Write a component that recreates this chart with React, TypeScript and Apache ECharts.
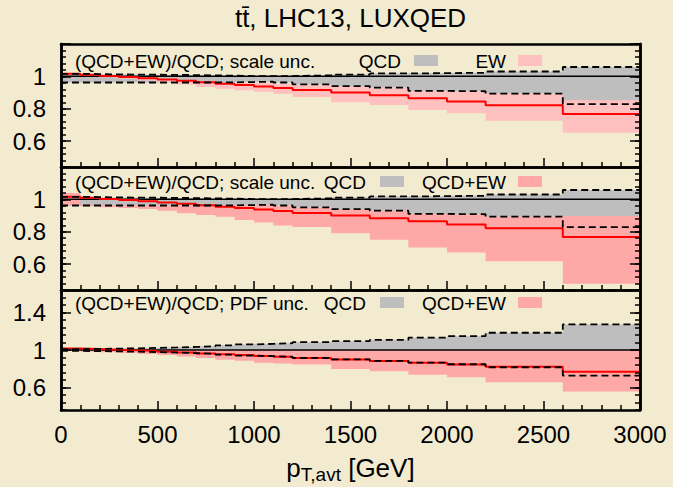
import { useEffect, useRef } from "react";
import * as echarts from "echarts";

// Bin edges in p_T,avt [GeV]
const binEdges = [0, 100, 200, 300, 400, 500, 600, 700, 800, 900, 1000, 1100, 1200, 1400, 1600, 1800, 2000, 2200, 2600, 3000];

// (QCD+EW)/QCD central value per bin
const ratioCentral = [1.016, 1.010, 1.003, 0.996, 0.989, 0.981, 0.973, 0.964, 0.955, 0.946, 0.937, 0.928, 0.916, 0.900, 0.883, 0.865, 0.845, 0.821, 0.768];

// QCD scale uncertainty band (upper / lower edge)
const qcdScaleUp = [1.016, 1.014, 1.012, 1.011, 1.010, 1.009, 1.008, 1.006, 1.004, 1.002, 1.001, 1.002, 1.006, 1.011, 1.018, 1.020, 1.022, 1.030, 1.058];
const qcdScaleDn = [0.962, 0.962, 0.962, 0.962, 0.962, 0.962, 0.962, 0.962, 0.963, 0.965, 0.967, 0.962, 0.950, 0.940, 0.930, 0.910, 0.908, 0.893, 0.828];

// EW uncertainty band
const ewUp = [1.020, 1.014, 1.007, 1.000, 0.993, 0.985, 0.977, 0.970, 0.965, 0.962, 0.960, 0.955, 0.946, 0.941, 0.932, 0.911, 0.909, 0.895, 0.852];
const ewDn = [1.012, 1.004, 0.995, 0.985, 0.975, 0.963, 0.950, 0.934, 0.924, 0.914, 0.905, 0.892, 0.873, 0.840, 0.823, 0.792, 0.772, 0.726, 0.652];

// QCD+EW scale uncertainty band
const qcdEwScaleUp = [1.040, 0.966, 0.964, 0.963, 0.962, 0.962, 0.962, 0.962, 0.963, 0.965, 0.967, 0.962, 0.950, 0.940, 0.930, 0.910, 0.908, 0.893, 0.898];
const qcdEwScaleDn = [0.962, 0.957, 0.952, 0.947, 0.940, 0.930, 0.915, 0.903, 0.892, 0.872, 0.857, 0.838, 0.830, 0.790, 0.750, 0.703, 0.672, 0.617, 0.478];

// QCD PDF uncertainty band
const qcdPdfUp = [1.010, 1.012, 1.015, 1.018, 1.022, 1.027, 1.033, 1.040, 1.050, 1.059, 1.066, 1.073, 1.084, 1.094, 1.109, 1.131, 1.148, 1.184, 1.273];
const qcdPdfDn = [0.990, 0.988, 0.985, 0.982, 0.978, 0.973, 0.967, 0.960, 0.950, 0.941, 0.934, 0.927, 0.916, 0.900, 0.885, 0.865, 0.848, 0.816, 0.727];

// QCD+EW PDF uncertainty band
const qcdEwPdfUp = [0.999, 0.999, 0.999, 0.999, 0.999, 0.999, 0.999, 0.999, 0.999, 0.999, 0.999, 0.999, 0.999, 0.999, 0.999, 0.999, 0.999, 0.999, 0.999];
const qcdEwPdfDn = [0.992, 0.985, 0.977, 0.968, 0.958, 0.946, 0.930, 0.916, 0.895, 0.885, 0.865, 0.855, 0.845, 0.798, 0.773, 0.737, 0.709, 0.655, 0.558];

// Axis ticks and labels
const yMinorUpper = [0.44, 0.48, 0.52, 0.56, 0.6, 0.64, 0.68, 0.72, 0.76, 0.8, 0.84, 0.88, 0.92, 0.96, 1, 1.04, 1.08, 1.12, 1.16, 1.2];
const yMajorUpper = [0.6, 0.8, 1, 1.2];
const yLabelsUpper = [0.6, 0.8, 1];
const yMinorPdf = [0.36, 0.44, 0.52, 0.6, 0.68, 0.76, 0.84, 0.92, 1, 1.08, 1.16, 1.24, 1.32, 1.4, 1.48, 1.56, 1.64];
const yMajorPdf = [0.6, 1, 1.4];
const yLabelsPdf = [0.6, 1, 1.4];

const FONT = "'Liberation Sans', Arial, Helvetica, sans-serif";
const BG = "#f2ebd0";
const GREY = "#bebebe";

const PLOT_LEFT = 61;
const PLOT_RIGHT = 640;
const WIDTH = 673;
const HEIGHT = 487;

const panels = [
  {
    top: 44, height: 123, min: 0.44, max: 1.2,
    minors: yMinorUpper, majors: yMajorUpper, labels: yLabelsUpper,
    grey: [qcdScaleDn, qcdScaleUp], pink: [ewDn, ewUp], pinkColor: "#ffc0c0",
    dashed: [qcdScaleUp, qcdScaleDn],
    text: "(QCD+EW)/QCD; scale unc.", key1: "QCD", key1Right: 401, sw1: 414,
    key2: "EW", textY: 61,
  },
  {
    top: 167, height: 123, min: 0.44, max: 1.2,
    minors: yMinorUpper, majors: yMajorUpper, labels: yLabelsUpper,
    grey: [qcdScaleDn, qcdScaleUp], pink: [qcdEwScaleDn, qcdEwScaleUp], pinkColor: "#ffa8a8",
    dashed: [qcdScaleUp, qcdScaleDn],
    text: "(QCD+EW)/QCD; scale unc.", key1: "QCD", key1Right: 366, sw1: 380,
    key2: "QCD+EW", textY: 182,
  },
  {
    top: 290, height: 120, min: 0.36, max: 1.64,
    minors: yMinorPdf, majors: yMajorPdf, labels: yLabelsPdf,
    grey: [qcdPdfDn, qcdPdfUp], pink: [qcdEwPdfDn, qcdEwPdfUp], pinkColor: "#ffa8a8",
    dashed: [qcdPdfUp, qcdPdfDn],
    text: "(QCD+EW)/QCD; PDF unc.", key1: "QCD", key1Right: 366, sw1: 380,
    key2: "QCD+EW", textY: 303,
  },
];

function steps(vals: number[]) {
  const pts: number[][] = [];
  vals.forEach((v, i) => {
    pts.push([binEdges[i], v], [binEdges[i + 1], v]);
  });
  return pts;
}

function band(g: number, lo: number[], hi: number[], color: string, z: number) {
  return {
    type: "custom",
    xAxisIndex: g * 2,
    yAxisIndex: g * 4,
    z,
    silent: true,
    clip: true,
    data: [[0, 1]],
    renderItem: (_params: any, api: any) => {
      const topPts: number[][] = [];
      const botPts: number[][] = [];
      hi.forEach((v, i) => {
        topPts.push(api.coord([binEdges[i], v]), api.coord([binEdges[i + 1], v]));
      });
      lo.forEach((v, i) => {
        botPts.push(api.coord([binEdges[i], v]), api.coord([binEdges[i + 1], v]));
      });
      return {
        type: "polygon",
        shape: { points: topPts.concat(botPts.reverse()) },
        style: { fill: color, stroke: null },
      };
    },
  };
}

function line(g: number, data: number[][], color: string, width: number, type: any, z: number) {
  return {
    type: "line",
    xAxisIndex: g * 2,
    yAxisIndex: g * 4,
    data,
    symbol: "none",
    silent: true,
    z,
    lineStyle: { color, width, type },
  };
}

const labelFmt = (v: number) => String(Math.round(v * 100) / 100);

export default function App() {
  const ref = useRef<HTMLDivElement>(null);

  useEffect(() => {
    const chart = echarts.init(ref.current!, null, { renderer: "svg" });

    const grid: any[] = [];
    const xAxis: any[] = [];
    const yAxis: any[] = [];
    const series: any[] = [];
    const graphic: any[] = [];

    const axisLine = { show: true, onZero: false, lineStyle: { color: "#000", width: 2.5 } };

    panels.forEach((p, g) => {
      grid.push({ left: PLOT_LEFT, right: WIDTH - PLOT_RIGHT, top: p.top, height: p.height, containLabel: false });

      xAxis.push({
        gridIndex: g, type: "value", min: 0, max: 3000, interval: 500, position: "bottom", z: 10,
        axisLine,
        axisTick: { show: true, inside: true, length: 9, lineStyle: { color: "#000", width: 1.5 } },
        minorTick: { show: true, splitNumber: 5, length: 5, lineStyle: { color: "#000", width: 1.5 } },
        splitLine: { show: false },
        axisLabel: {
          show: g === 2, color: "#000", fontSize: 24, fontFamily: FONT, margin: 12,
          formatter: (v: number) => String(v),
        },
      });
      xAxis.push({
        gridIndex: g, type: "value", min: 0, max: 3000, position: "top", z: 10,
        axisLine, axisTick: { show: false }, axisLabel: { show: false }, splitLine: { show: false },
      });

      const ySide = (position: string, major: boolean, labels: boolean) => ({
        gridIndex: g, type: "value", min: p.min, max: p.max, position, z: 10,
        axisLine,
        axisTick: {
          show: true, inside: true, length: major ? 10 : 5,
          customValues: major ? p.majors : p.minors,
          lineStyle: { color: "#000", width: 1.5 },
        },
        axisLabel: labels
          ? { show: true, customValues: p.labels, formatter: labelFmt, color: "#000", fontSize: 24, fontFamily: FONT, margin: 15 }
          : { show: false },
        splitLine: { show: false },
      });
      yAxis.push(ySide("left", true, true), ySide("left", false, false), ySide("right", true, false), ySide("right", false, false));

      series.push(band(g, p.grey[0], p.grey[1], GREY, 1));
      series.push(band(g, p.pink[0], p.pink[1], p.pinkColor, 2));
      series.push(line(g, [[0, 1], [3000, 1]], "#000", 1.5, "solid", 3));
      series.push(line(g, steps(ratioCentral), "#ff0000", 2, "solid", 4));
      series.push(line(g, steps(p.dashed[0]), "#000", 1.8, [7, 4], 5));
      series.push(line(g, steps(p.dashed[1]), "#000", 1.8, [7, 4], 5));

      // in-panel key
      const txt = (text: string, x: number, align: string) => ({
        type: "text", x, y: p.textY, z: 20,
        style: { text, fill: "#000", fontSize: 19, fontFamily: FONT, align, verticalAlign: "middle" },
      });
      graphic.push(txt(p.text, 75, "left"));
      graphic.push(txt(p.key1, p.key1Right, "right"));
      graphic.push(txt(p.key2, 506, "right"));
      graphic.push({ type: "rect", z: 20, shape: { x: p.sw1, y: p.textY - 6, width: 24, height: 11 }, style: { fill: GREY } });
      graphic.push({ type: "rect", z: 20, shape: { x: 518, y: p.textY - 6, width: 24, height: 11 }, style: { fill: p.pinkColor } });
    });

    graphic.push({
      type: "text", x: (PLOT_LEFT + PLOT_RIGHT) / 2, y: 18, z: 20,
      style: { text: "tt\u0304, LHC13, LUXQED", fill: "#000", fontSize: 26, fontFamily: FONT, align: "center", verticalAlign: "middle" },
    });
    graphic.push({
      type: "text", x: (PLOT_LEFT + PLOT_RIGHT) / 2, y: 468, z: 20,
      style: {
        text: "{m|p}{s|T,avt}{m| [GeV]}",
        align: "center", verticalAlign: "middle",
        rich: {
          m: { fontSize: 26, lineHeight: 32, verticalAlign: "middle", fontFamily: FONT, fill: "#000" },
          s: { fontSize: 19, lineHeight: 19, verticalAlign: "bottom", fontFamily: FONT, fill: "#000" },
        },
      },
    });

    chart.setOption({
      animation: false,
      backgroundColor: BG,
      grid, xAxis, yAxis, series, graphic,
    });

    return () => chart.dispose();
  }, []);

  return (
    <div
      ref={ref}
      style={{ position: "fixed", left: 0, top: 0, width: WIDTH, height: HEIGHT, background: BG }}
    />
  );
}
